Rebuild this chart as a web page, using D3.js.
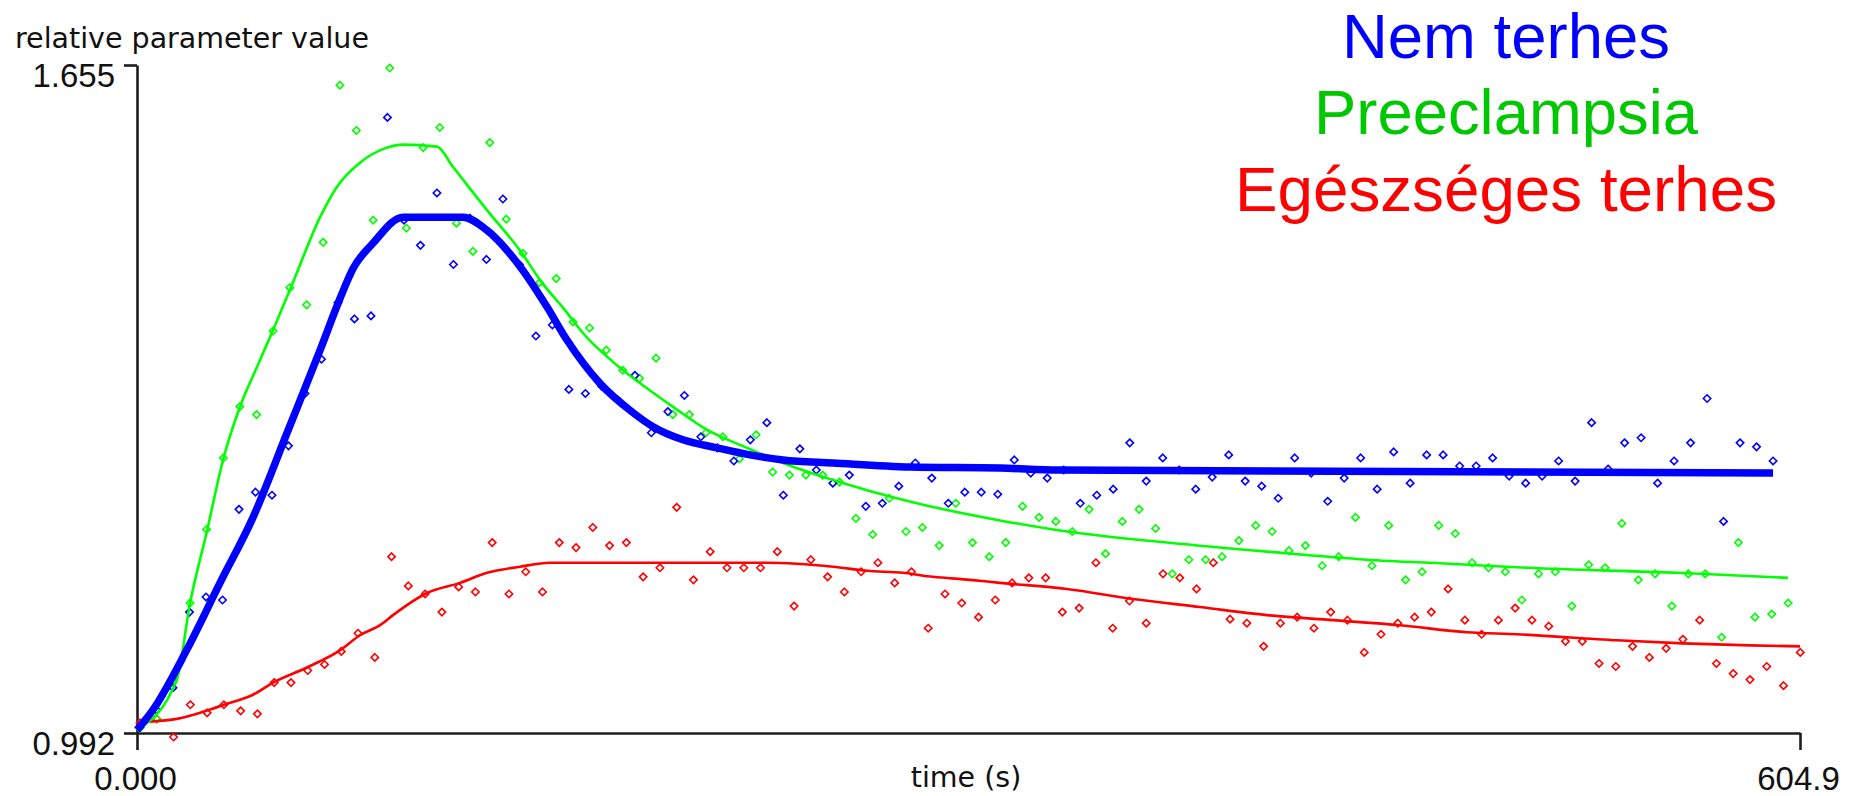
<!DOCTYPE html>
<html><head><meta charset="utf-8">
<script src="https://cdn.jsdelivr.net/npm/d3@7"></script>
<style>body{margin:0;background:#fff;overflow:hidden;} svg{display:block;}</style>
</head><body>
<svg id="chart" width="1858" height="796"></svg>
<script>
// ---------- data ----------
const seriesNames = ["Nem terhes", "Preeclampsia", "Egészséges terhes"];

const blueTimes = [1.1,7.1,13.1,19.1,25.1,31.1,37.1,43.1,49.1,55.1,61.1,67.1,73.1,79.1,85.1,91.1,97.1,103.1,109.1,115.1,121.1,127.1,133.1,139.1,145.1,151.1,157.1,163.1,169.1,175.1,181.1,187.1,193.1,199.1,205.1,211.1,217.1,223.1,229.1,235.1,241.1,247.1,253.1,259.1,265.1,271.1,277.1,283.1,289.1,295.1,301.1,307.1,313.1,319.1,325.1,331.1,337.1,343.1,349.1,355.1,361.1,367.1,373.1,379.1,385.1,391.1,397.1,403.1,409.1,415.1,421.1,427.1,433.1,439.1,445.1,451.1,457.1,463.1,469.1,475.1,481.1,487.1,493.1,499.1,505.1,511.1,517.1,523.1,529.1,535.1,541.1,547.1,553.1,559.1,565.1,571.1,577.1,583.1,589.1,595.1];
const blueValues = [0.998,1.015,1.037,1.112,1.127,1.124,1.214,1.231,1.228,1.277,
 1.329,1.363,1.419,1.403,1.406,1.603,1.501,1.476,1.528,1.457,
 1.503,1.462,1.522,1.457,1.386,1.397,1.333,1.329,1.336,1.322,
 1.347,1.290,1.311,1.327,1.286,1.275,1.262,1.283,1.300,1.228,
 1.274,1.253,1.240,1.248,1.217,1.220,1.237,1.260,1.245,1.220,
 1.231,1.231,1.229,1.263,1.250,1.245,1.253,1.220,1.228,1.234,
 1.280,1.242,1.265,1.253,1.234,1.246,1.268,1.242,1.237,1.225,
 1.265,1.250,1.222,1.245,1.265,1.234,1.271,1.240,1.268,1.268,
 1.257,1.257,1.265,1.247,1.240,1.247,1.262,1.242,1.300,1.254,
 1.280,1.285,1.240,1.262,1.280,1.324,1.202,1.280,1.276,1.262];

const greenTimes = [1.1,7.2,13.2,19.3,25.3,31.4,37.4,43.5,49.5,55.6,61.7,67.7,73.8,79.8,85.9,91.9,98.0,104.1,110.1,116.2,122.2,128.3,134.3,140.4,146.4,152.5,158.6,164.6,170.7,176.7,182.8,188.8,194.9,200.9,207.0,213.1,219.1,225.2,231.2,237.3,243.3,249.4,255.5,261.5,267.6,273.6,279.7,285.7,291.8,297.8,303.9,310.0,316.0,322.1,328.1,334.2,340.2,346.3,352.3,358.4,364.5,370.5,376.6,382.6,388.7,394.7,400.8,406.9,412.9,419.0,425.0,431.1,437.1,443.2,449.2,455.3,461.4,467.4,473.5,479.5,485.6,491.6,497.7,503.7,509.8,515.9,521.9,528.0,534.0,540.1,546.1,552.2,558.3,564.3,570.4,576.4,582.5,588.5,594.6,600.6];
const greenValues = [0.997,1.006,1.043,1.121,1.194,1.265,1.316,1.308,1.391,1.434,
 1.417,1.479,1.635,1.590,1.501,1.652,1.493,1.573,1.593,1.498,
 1.470,1.578,1.502,1.468,1.439,1.443,1.400,1.394,1.372,1.352,
 1.344,1.364,1.308,1.308,1.290,1.286,1.264,1.288,1.251,1.248,
 1.248,1.248,1.241,1.205,1.189,1.225,1.192,1.196,1.178,1.220,
 1.181,1.167,1.181,1.217,1.206,1.202,1.192,1.214,1.170,1.202,
 1.214,1.195,1.150,1.164,1.164,1.167,1.183,1.198,1.192,1.173,
 1.178,1.158,1.167,1.206,1.158,1.198,1.144,1.152,1.198,1.190,
 1.161,1.156,1.152,1.124,1.150,1.152,1.118,1.159,1.156,1.200,
 1.144,1.150,1.118,1.150,1.150,1.087,1.181,1.107,1.110,1.121];

const redTimes = [1.1,7.2,13.3,19.4,25.5,31.6,37.7,43.8,49.9,56.0,62.1,68.2,74.3,80.4,86.5,92.6,98.7,104.8,110.9,117.0,123.1,129.2,135.3,141.4,147.5,153.6,159.7,165.8,171.9,178.0,184.1,190.2,196.3,202.4,208.5,214.6,220.7,226.8,232.9,239.0,245.1,251.2,257.3,263.4,269.5,275.6,281.7,287.8,293.9,300.0,306.1,312.2,318.3,324.4,330.5,336.6,342.7,348.8,354.9,361.0,367.1,373.2,379.3,385.4,391.5,397.6,403.7,409.8,415.9,422.0,428.1,434.2,440.3,446.4,452.5,458.6,464.7,470.8,476.9,483.0,489.1,495.2,501.3,507.4,513.5,519.6,525.7,531.8,537.9,544.0,550.1,556.2,562.3,568.4,574.5,580.6,586.7,592.8,598.9,605.0];
const redValues = [1.002,1.006,0.988,1.020,1.012,1.020,1.014,1.011,1.042,1.042,
 1.054,1.060,1.073,1.091,1.067,1.167,1.138,1.130,1.112,1.137,
 1.132,1.181,1.130,1.152,1.132,1.181,1.176,1.196,1.178,1.181,
 1.147,1.156,1.216,1.144,1.172,1.156,1.156,1.156,1.172,1.118,
 1.164,1.147,1.132,1.152,1.161,1.141,1.152,1.096,1.130,1.121,
 1.107,1.124,1.141,1.146,1.146,1.112,1.116,1.161,1.096,1.123,
 1.101,1.150,1.146,1.135,1.161,1.105,1.101,1.078,1.101,1.107,
 1.096,1.112,1.104,1.072,1.090,1.101,1.107,1.112,1.135,1.104,
 1.090,1.104,1.116,1.104,1.098,1.083,1.083,1.061,1.058,1.078,
 1.067,1.076,1.085,1.104,1.061,1.051,1.045,1.058,1.039,1.072];

// fitted curves
const blueFitTimes = [0,5.8,18.2,30.2,42.2,54.6,66.6,73.8,78.6,85.8,96.8,118.6,127.3,139.3,149.1,156.4,168.4,180.4,187.7,198.6,211.0,223.0,235.0,253.2,281.2,313.9,335.0,595.1];
const blueFitValues = [0.995,1.015,1.075,1.141,1.206,1.290,1.372,1.423,1.453,1.478,1.504,1.504,1.491,1.455,1.415,1.382,1.339,1.310,1.296,1.283,1.275,1.268,1.263,1.260,1.256,1.255,1.253,1.250];

const greenFitTimes = [0,14.5,19.3,25.5,31.3,37.5,43.6,49.5,56.7,66.6,72.7,81.1,90.9,96.8,109.1,114.9,127.3,139.3,147.3,155.0,162.2,176.8,186.6,196.4,207.3,221.9,235.0,253.2,265.5,283.7,313.9,338.3,374.7,411.0,447.4,477.6,505.6,560.5,600.5];
const greenFitValues = [0.995,1.045,1.121,1.193,1.263,1.316,1.355,1.392,1.439,1.504,1.534,1.558,1.573,1.576,1.574,1.554,1.511,1.471,1.439,1.414,1.389,1.352,1.332,1.313,1.293,1.275,1.260,1.243,1.233,1.220,1.203,1.192,1.181,1.172,1.164,1.160,1.156,1.151,1.146];

const redFitTimes = [2.0,14.5,24.0,32.7,42.2,49.5,61.8,73.8,81.1,88.4,93.1,105.5,117.5,127.3,139.3,150.2,229.2,253.2,265.5,278.6,289.5,303.0,313.9,338.3,362.3,386.7,411.0,435.0,459.4,483.8,502.0,538.3,562.3,586.7,604.9];
const redFitValues = [1.003,1.006,1.013,1.021,1.030,1.042,1.057,1.074,1.089,1.099,1.109,1.131,1.141,1.151,1.157,1.161,1.161,1.157,1.153,1.151,1.147,1.144,1.141,1.135,1.125,1.117,1.109,1.104,1.099,1.092,1.090,1.084,1.081,1.079,1.078];

const xTickValues = [0, 604.9];
const xTickLabels = ["0.000", "604.9"];
const yTickValues = [0.992, 1.655];
const yTickLabels = ["0.992", "1.655"];
const xTitle = "time (s)";
const yTitle = "relative parameter value";

// ---------- drawing ----------
const svg = d3.select("#chart");
const x = d3.scaleLinear().domain([0, 604.9]).range([137, 1800]);
const y = d3.scaleLinear().domain([0.992, 1.655]).range([733, 65]);

const colors = { blue: "#0000ff", green: "#00ff00", red: "#ff0000" };
const legendColors = ["#0000ff", "#00c800", "#ff0000"];

// axes
const axisColor = "#1e1e1e";
const yAxis = d3.axisLeft(y).tickValues(yTickValues).tickSize(13).tickSizeOuter(0)
  .tickFormat((d, i) => yTickLabels[i]);
const gy = svg.append("g").attr("transform", "translate(137,0)").call(yAxis);
const xAxis = d3.axisBottom(x).tickValues(xTickValues).tickSize(17).tickSizeOuter(0)
  .tickFormat((d, i) => xTickLabels[i]);
const gx = svg.append("g").attr("transform", "translate(0,733)").call(xAxis);

[gx, gy].forEach(g => {
  g.select(".domain").attr("stroke", axisColor).attr("stroke-width", 2.6);
  g.selectAll(".tick line").attr("stroke", axisColor).attr("stroke-width", 2.6);
  g.selectAll(".tick text").attr("fill", "#111")
    .style("font-family", "'Liberation Sans', Arial, sans-serif").style("font-size", "33px");
});
gy.selectAll(".tick text").attr("x", -22).attr("dy", 0).attr("y", 21).attr("text-anchor", "end");
gx.selectAll(".tick text").attr("y", 57).attr("dy", 0).attr("dx", -2);

// axis titles
svg.append("text").attr("x", 15).attr("y", 48).text(yTitle)
  .attr("fill", "#111").style("font-family", "'DejaVu Sans', sans-serif").style("font-size", "28.5px");
svg.append("text").attr("x", 966).attr("y", 787).attr("text-anchor", "middle").text(xTitle)
  .attr("fill", "#111").style("font-family", "'DejaVu Sans', sans-serif").style("font-size", "28.5px");

// markers
const diamond = "M0,-3.7L3.7,0L0,3.7L-3.7,0Z";
function drawPoints(times, values, color) {
  svg.append("g").selectAll("path").data(times.map((t, i) => [t, values[i]])).join("path")
    .attr("d", diamond)
    .attr("transform", d => `translate(${x(d[0])},${y(d[1])})`)
    .attr("fill", "none").attr("stroke", color).attr("stroke-width", 1.6);
}
drawPoints(redTimes, redValues, colors.red);
drawPoints(greenTimes, greenValues, colors.green);
drawPoints(blueTimes, blueValues, colors.blue);

// fitted curves
function drawLine(times, values, color, width) {
  const line = d3.line().x(d => x(d[0])).y(d => y(d[1])).curve(d3.curveMonotoneX);
  svg.append("path").datum(times.map((t, i) => [t, values[i]]))
    .attr("d", line).attr("fill", "none").attr("stroke", color)
    .attr("stroke-width", width).attr("stroke-linejoin", "round");
}
drawLine(redFitTimes, redFitValues, colors.red, 2.6);
drawLine(greenFitTimes, greenFitValues, colors.green, 2.6);
drawLine(blueFitTimes, blueFitValues, colors.blue, 7.5);

// legend
const legendBaselines = [58, 134, 211];
const legendWidths = [328, 384, 542];
seriesNames.forEach((name, i) => {
  svg.append("text").attr("x", 1506).attr("y", legendBaselines[i])
    .attr("text-anchor", "middle").attr("fill", legendColors[i])
    .attr("textLength", legendWidths[i]).attr("lengthAdjust", "spacingAndGlyphs")
    .style("font-family", "'Liberation Sans', Arial, sans-serif")
    .style("font-size", "63px").text(name);
});
</script>
</body></html>
